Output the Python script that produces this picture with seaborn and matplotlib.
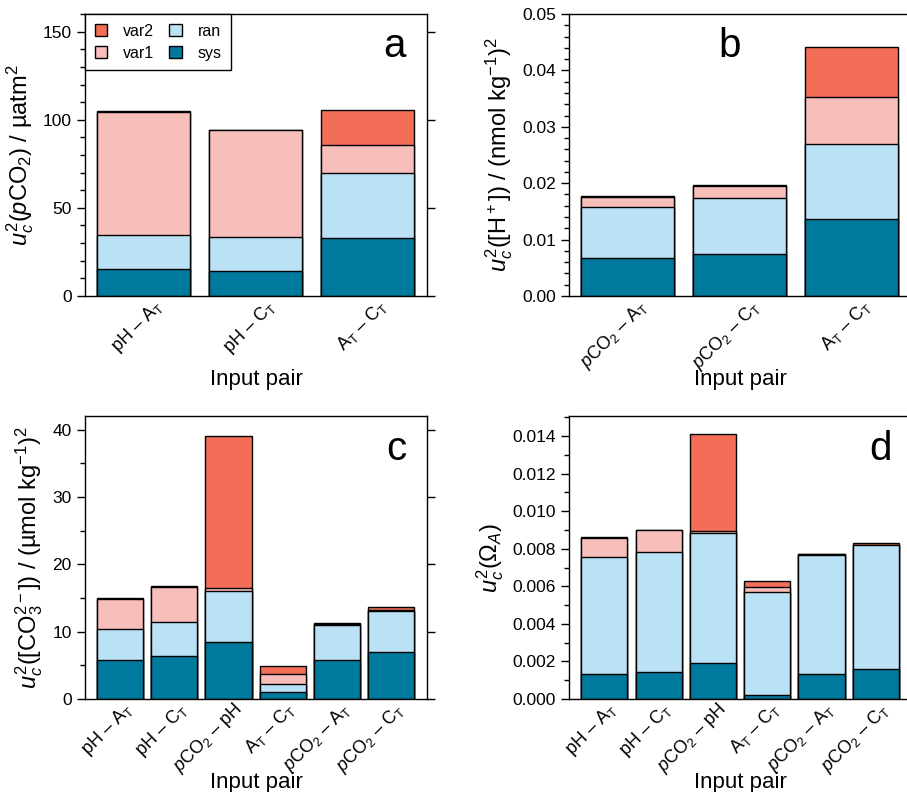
import numpy as np
import pandas as pd
import matplotlib
matplotlib.use("Agg")
import matplotlib.pyplot as plt
from matplotlib.patches import Patch
from matplotlib.ticker import MultipleLocator, FormatStrFormatter
from matplotlib.transforms import ScaledTranslation
import seaborn as sns

# Data: variance components per input pair (sys, ran, var1, var2)
pairs_a = ["pH – A$_\\mathrm{T}$", "pH – C$_\\mathrm{T}$", "A$_\\mathrm{T}$ – C$_\\mathrm{T}$"]
sys_a = [15.2, 14.4, 32.8]
ran_a = [19.6, 19.1, 37.1]
var1_a = [69.7, 60.4, 15.7]
var2_a = [0.3, 0.3, 19.9]

pairs_b = ["$\\it{p}$CO$_2$ – A$_\\mathrm{T}$", "$\\it{p}$CO$_2$ – C$_\\mathrm{T}$",
           "A$_\\mathrm{T}$ – C$_\\mathrm{T}$"]
sys_b = [0.0068, 0.0074, 0.0136]
ran_b = [0.0089, 0.0099, 0.0133]
var1_b = [0.0018, 0.0022, 0.0083]
var2_b = [0.0002, 0.0002, 0.0089]

pairs_cd = ["pH – A$_\\mathrm{T}$", "pH – C$_\\mathrm{T}$", "$\\it{p}$CO$_2$ – pH",
            "A$_\\mathrm{T}$ – C$_\\mathrm{T}$", "$\\it{p}$CO$_2$ – A$_\\mathrm{T}$",
            "$\\it{p}$CO$_2$ – C$_\\mathrm{T}$"]
sys_c = [5.75, 6.4, 8.5, 1.0, 5.8, 7.0]
ran_c = [4.65, 5.1, 7.5, 1.28, 5.15, 6.13]
var1_c = [4.4, 5.15, 0.46, 1.44, 0.2, 0.1]
var2_c = [0.15, 0.1, 22.64, 1.24, 0.15, 0.4]

sys_d = [0.00131, 0.00146, 0.00193, 0.00023, 0.00131, 0.00161]
ran_d = [0.00625, 0.00635, 0.00689, 0.00545, 0.00636, 0.00657]
var1_d = [0.00101, 0.00117, 0.00012, 0.00030, 0.00003, 0.00004]
var2_d = [0.00005, 0.00003, 0.00518, 0.00032, 0.00003, 0.00010]

colors = {"var2": "#F26E57", "var1": "#F8BEBA", "ran": "#BAE1F5", "sys": "#007A9C"}

sns.set_style("ticks")
plt.rcParams["font.family"] = ["Liberation Sans", "DejaVu Sans"]
plt.rcParams["mathtext.fontset"] = "custom"
plt.rcParams["mathtext.rm"] = "Liberation Sans"
plt.rcParams["mathtext.it"] = "Liberation Sans:italic"
plt.rcParams["mathtext.bf"] = "Liberation Sans:bold"
plt.rcParams["axes.linewidth"] = 1.0
for key in ["text.color", "axes.labelcolor", "xtick.color", "ytick.color",
            "axes.edgecolor"]:
    plt.rcParams[key] = "black"


def draw_panel(fig, ax, pairs, sys, ran, var1, var2, ymax, major, minor, fmt,
               ylabel, letter, letter_x, width):
    layers = np.cumsum(np.array([sys, ran, var1, var2]), axis=0)
    names = ["sys", "ran", "var1", "var2"]
    # draw tallest (cumulative) first so lower segments sit on top
    for i in [3, 2, 1, 0]:
        df = pd.DataFrame({"pair": pairs, "val": layers[i]})
        sns.barplot(data=df, x="pair", y="val", color=colors[names[i]],
                    saturation=1, edgecolor="black", linewidth=1.0,
                    width=width, errorbar=None, ax=ax)
    n = len(pairs)
    pad = 0.52 if n == 3 else 0.645
    ax.set_xlim(-pad, n - 1 + pad + 0.01)
    ax.set_ylim(0, ymax)
    ax.yaxis.set_major_locator(MultipleLocator(major))
    ax.yaxis.set_minor_locator(MultipleLocator(minor))
    ax.yaxis.set_major_formatter(FormatStrFormatter(fmt))
    ax.tick_params(axis="y", which="major", direction="out", length=6,
                   width=1, right=True, labelsize=12.5)
    ax.tick_params(axis="y", which="minor", direction="out", length=3.5,
                   width=1, right=False, left=True)
    ax.tick_params(axis="x", which="both", length=0, labelsize=13, pad=2)
    ax.set_xticks(range(n))
    ax.set_xticklabels(pairs, rotation=45, ha="right", rotation_mode="anchor")
    shift = 0.10 if n == 3 else 0.03
    for lab in ax.get_xticklabels():
        lab.set_transform(lab.get_transform() +
                          ScaledTranslation(shift, 0.02, fig.dpi_scale_trans))
    ax.set_xlabel("Input pair", fontsize=16)
    ax.xaxis.set_label_coords(0.5, -0.295)
    ax.xaxis.label.set_va("center")
    ax.set_ylabel(ylabel, fontsize=17, labelpad=5)
    ax.text(letter_x, 0.885, letter, transform=ax.transAxes, fontsize=29,
            ha="center", va="center")


fig = plt.figure(figsize=(9.07, 7.92), dpi=100)
ax_a = fig.add_axes([0.0937, 0.6263, 0.377, 0.356])
ax_b = fig.add_axes([0.6277, 0.6263, 0.377, 0.356])
ax_c = fig.add_axes([0.0937, 0.1174, 0.377, 0.357])
ax_d = fig.add_axes([0.6277, 0.1174, 0.377, 0.357])

draw_panel(fig, ax_a, pairs_a, sys_a, ran_a, var1_a, var2_a, 160, 50, 10, "%d",
           "$u_c^2$($\\it{p}$CO$_2$) / µatm$^2$", "a", 0.905, 0.83)
draw_panel(fig, ax_b, pairs_b, sys_b, ran_b, var1_b, var2_b, 0.05, 0.01, 0.002, "%.2f",
           "$u_c^2$([H$^+$]) / (nmol kg$^{-1}$)$^2$", "b", 0.47, 0.83)
draw_panel(fig, ax_c, pairs_cd, sys_c, ran_c, var1_c, var2_c, 42, 10, 5, "%d",
           "$u_c^2$([CO$_3^{2-}$]) / (µmol kg$^{-1}$)$^2$", "c", 0.91, 0.85)
draw_panel(fig, ax_d, pairs_cd, sys_d, ran_d, var1_d, var2_d, 0.01505, 0.002, 0.001, "%.3f",
           "$u_c^2$(Ω$_A$)", "d", 0.91, 0.85)

handles = [Patch(facecolor=colors[k], edgecolor="black", linewidth=1.0, label=k)
           for k in ["var2", "var1", "ran", "sys"]]
leg = ax_a.legend(handles=handles, loc="upper left", ncol=2, fontsize=11.5,
                  frameon=True, fancybox=False, framealpha=1, edgecolor="black",
                  borderaxespad=0, handlelength=0.8, handleheight=0.8,
                  columnspacing=0.9, handletextpad=1.0, labelspacing=0.45,
                  borderpad=0.6)
leg.get_frame().set_linewidth(1.0)

fig.savefig("out.png", dpi=100)
